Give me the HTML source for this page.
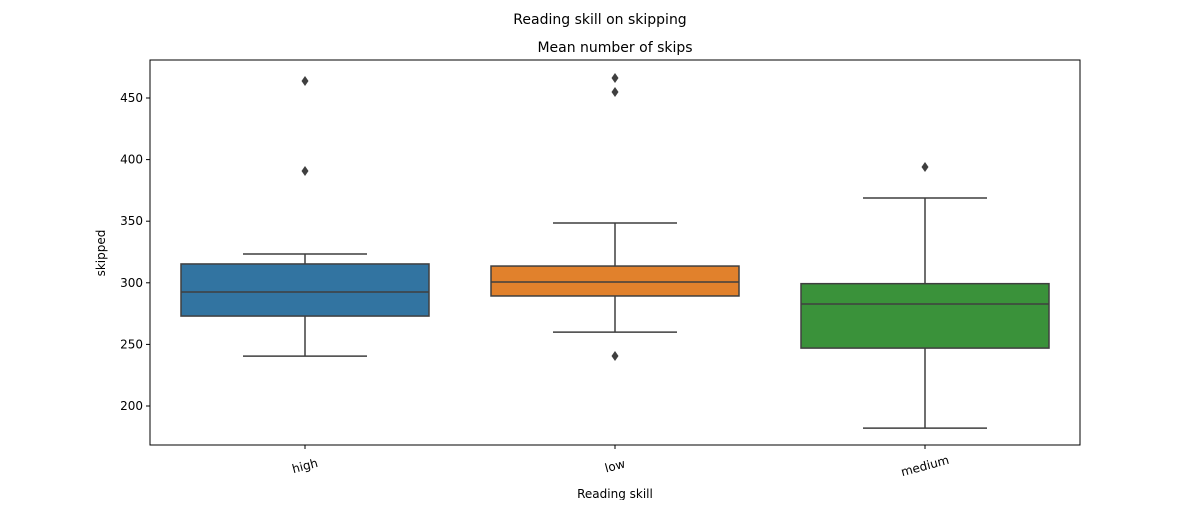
<!DOCTYPE html>
<html><head><meta charset="utf-8"><style>
body{margin:0;background:#fff;font-family:"Liberation Sans","DejaVu Sans",sans-serif;}
svg text{font-family:"DejaVu Sans","Liberation Sans",sans-serif;}
</style></head><body>
<svg id="chart" width="1200" height="500">
<text x="600" y="24" text-anchor="middle" font-size="14">Reading skill on skipping</text>
<text x="615" y="52" text-anchor="middle" font-size="14">Mean number of skips</text>
<g id="plot"></g>
<rect x="150" y="60" width="930" height="385" fill="none" stroke="#000" stroke-width="1"/>
<text x="615" y="498" text-anchor="middle" font-size="12">Reading skill</text>
<text transform="translate(105,253) rotate(-90)" text-anchor="middle" font-size="12">skipped</text>
</svg>
<script>
const categories=["high","low","medium"];
const colors=["#3274a1","#e1812c","#3a923a"];
const whiskerLow=[240.5,260,182];
const q1=[273,289.3,247];
const medians=[292.5,300.6,282.8];
const q3=[315.3,313.6,299.3];
const whiskerHigh=[323.4,348.5,368.8];
const outliers=[[463.8,390.7],[466.2,454.9,240.6],[394]];
const yTicks=[200,250,300,350,400,450];

const NS="http://www.w3.org/2000/svg";
const g=document.getElementById('plot');
const L=150,R=1080;
const y=v=>406-(v-200)*1.232;
const band=(R-L)/categories.length;
const xc=i=>L+band*(i+0.5);
function mk(t,a){const e=document.createElementNS(NS,t);for(const k in a)e.setAttribute(k,a[k]);g.appendChild(e);return e;}
yTicks.forEach(t=>{
  const l=mk('line',{x1:L-4,x2:L,y1:y(t),y2:y(t),stroke:'#000'});
  
  
  const tx=mk('text',{x:L-7,y:y(t)+4,'text-anchor':'end','font-size':12});
  tx.textContent=t;
  
  
});
categories.forEach((c,i)=>{
  const cx=xc(i),w=band*0.8,st='#3f3f3f';
  const grp=document.createElementNS(NS,'g');g.appendChild(grp);
  
  
  const add=(t,a)=>{const e=document.createElementNS(NS,t);for(const k in a)e.setAttribute(k,a[k]);grp.appendChild(e);return e;};
  add('line',{x1:cx,x2:cx,y1:y(whiskerLow[i]),y2:y(q1[i]),stroke:st,'stroke-width':1.5});
  add('line',{x1:cx,x2:cx,y1:y(q3[i]),y2:y(whiskerHigh[i]),stroke:st,'stroke-width':1.5});
  add('line',{x1:cx-w/4,x2:cx+w/4,y1:y(whiskerLow[i]),y2:y(whiskerLow[i]),stroke:st,'stroke-width':1.5});
  add('line',{x1:cx-w/4,x2:cx+w/4,y1:y(whiskerHigh[i]),y2:y(whiskerHigh[i]),stroke:st,'stroke-width':1.5});
  add('rect',{x:cx-w/2,y:y(q3[i]),width:w,height:y(q1[i])-y(q3[i]),fill:colors[i],stroke:st,'stroke-width':1.5});
  add('line',{x1:cx-w/2,x2:cx+w/2,y1:y(medians[i]),y2:y(medians[i]),stroke:st,'stroke-width':1.5});
  outliers[i].forEach(o=>{
    const p=add('path',{d:`M${cx},${y(o)-5} L${cx+3.5},${y(o)} L${cx},${y(o)+5} L${cx-3.5},${y(o)} Z`,fill:st});
    
    
  });
  const tk=mk('line',{x1:cx,x2:cx,y1:445,y2:449,stroke:'#000'});
  
  
  const tx=mk('text',{x:cx,y:470,'text-anchor':'middle','font-size':12,transform:`rotate(-15 ${cx} 466)`});
  tx.textContent=c;
  
  
});
</script>
</body></html>
